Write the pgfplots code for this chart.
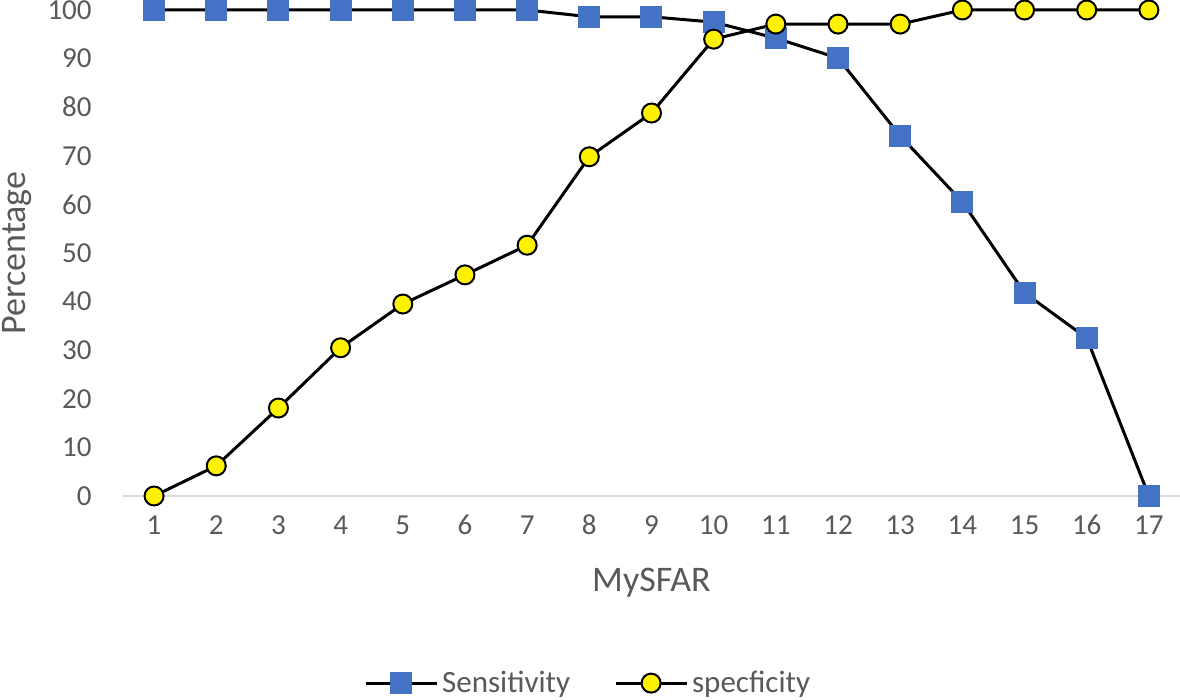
\documentclass[border=0pt]{standalone}
\usepackage{pgfplots}
\pgfplotsset{compat=1.18}
\usepackage{fontspec}
\setmainfont{Carlito}
\definecolor{txt}{HTML}{595959}
\definecolor{sblue}{HTML}{4472C4}
\definecolor{axc}{HTML}{D9D9D9}
\begin{document}
\begin{tikzpicture}
\useasboundingbox (0,0) rectangle (590pt,350pt);
\begin{axis}[
  at={(61.5pt,102pt)}, anchor=south west,
  scale only axis, width=528.5pt, height=243pt,
  xmin=0.5, xmax=17.5, ymin=0, ymax=100,
  clip=false,
  axis x line*=bottom, axis y line*=left,
  x axis line style={draw=axc, line width=1pt, -},
  y axis line style={draw=none},
  xtick={1,...,17}, ytick={0,10,...,100},
  major tick length=0pt,
  tick label style={font=\fontsize{14.5}{16}\selectfont, text=txt},
  /pgf/number format/assume math mode=true,
  xticklabel style={anchor=center, inner sep=0pt, yshift=-14.5pt},
  yticklabel style={anchor=east, inner sep=0pt, xshift=-15.5pt},
  xlabel={MySFAR}, ylabel={Percentage},
  label style={font=\fontsize{18}{20}\selectfont, text=txt},
  xlabel style={at={(axis description cs:0.5,-0.179)}, anchor=center},
  ylabel style={at={(axis description cs:-0.1,0.5)}, anchor=center, rotate=0},
  legend style={at={(axis description cs:0.441,-0.385)}, anchor=center, draw=none,
    font=\fontsize{15.5}{17}\selectfont, text=txt, legend columns=2,
    /tikz/every even column/.append style={column sep=20pt}},
  legend image code/.code={\draw[mark repeat=2,mark phase=2] plot coordinates {(0pt,0pt) (17.75pt,0pt) (35.5pt,0pt)};},
]
\addplot[black, line width=1.5pt, mark=square*, mark size=5.25pt,
  mark options={fill=sblue, draw=sblue, line width=0pt}] coordinates {
(1,100) (2,100) (3,100) (4,100) (5,100) (6,100) (7,100) (8,98.6) (9,98.6)
(10,97.5) (11,94.2) (12,90.1) (13,74.1) (14,60.5) (15,41.8) (16,32.5) (17,0)};
\addlegendentry{Sensitivity}
\addplot[black, line width=1.5pt, mark=*, mark size=4.75pt,
  mark options={fill=yellow, draw=black, line width=1pt}] coordinates {
(1,0) (2,6.2) (3,18.1) (4,30.5) (5,39.5) (6,45.5) (7,51.6) (8,69.8) (9,78.8)
(10,94.0) (11,97.1) (12,97.1) (13,97.1) (14,100) (15,100) (16,100) (17,100)};
\addlegendentry{specficity}
\end{axis}
\end{tikzpicture}
\end{document}
